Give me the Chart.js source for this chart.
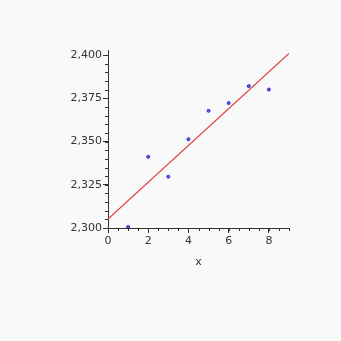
<!DOCTYPE html>
<html>
<head>
<meta charset="utf-8">
<script src="https://cdn.jsdelivr.net/npm/chart.js@4/dist/chart.umd.min.js"></script>
<style>
  html, body { margin: 0; padding: 0; background: #f9f9f9; }
  #wrap { width: 341px; height: 341px; }
</style>
</head>
<body>
<div id="wrap"><canvas id="c" width="341" height="341"></canvas></div>
<script>
// data
const xs = [1, 2, 3, 4, 5, 6, 7, 8];
const ys = [2.3006, 2.3412, 2.3297, 2.3514, 2.3678, 2.3723, 2.3821, 2.3801];
const fitX = [0, 9];
const fitY = [2.3052, 2.4010];
const xTicks = [0, 2, 4, 6, 8];
const yTicks = [2.300, 2.325, 2.350, 2.375, 2.400];

const fmt = v => v.toFixed(3).replace(".", ",");

// small minor ticks, like the original plot
const minorTicks = {
  id: "minorTicks",
  afterDraw(chart) {
    const ctx = chart.ctx;
    const x = chart.scales.x, y = chart.scales.y;
    ctx.save();
    ctx.strokeStyle = "#333";
    ctx.lineWidth = 1;
    ctx.beginPath();
    for (let v = 0; v <= 9.001; v += 0.5) {
      const px = Math.round(x.getPixelForValue(v)) + 0.5;
      ctx.moveTo(px, y.bottom);
      ctx.lineTo(px, y.bottom + 3);
    }
    for (let v = 2.300; v <= 2.4001; v += 0.005) {
      const py = Math.round(y.getPixelForValue(v)) + 0.5;
      ctx.moveTo(x.left - 3, py);
      ctx.lineTo(x.left, py);
    }
    ctx.stroke();
    ctx.restore();
  }
};

new Chart(document.getElementById("c"), {
  type: "scatter",
  data: {
    datasets: [{
      data: xs.map((v, i) => ({ x: v, y: ys[i] })),
      pointStyle: "circle",
      pointRadius: 1.5,
      borderColor: "#2a2ad0",
      backgroundColor: "#6060e0",
      borderWidth: 1
    }, {
      type: "line",
      data: fitX.map((v, i) => ({ x: v, y: fitY[i] })),
      borderColor: "#e03c3c",
      borderWidth: 1.2,
      pointRadius: 0,
      fill: false
    }]
  },
  plugins: [minorTicks],
  options: {
    responsive: false,
    animation: false,
    layout: { padding: { left: 0, top: 50, right: 52, bottom: 68 } },
    plugins: { legend: { display: false }, tooltip: { enabled: false } },
    scales: {
      x: {
        type: "linear",
        min: 0, max: 9,
        afterBuildTicks: s => { s.ticks = xTicks.map(v => ({ value: v })); },
        afterFit: s => { s.height = 45; },
        border: { color: "#333" },
        grid: { drawOnChartArea: false, tickLength: 5, color: "#333" },
        ticks: {
          color: "#333", padding: 2,
          font: { family: "DejaVu Sans", size: 11 },
          callback: v => String(v)
        },
        title: {
          display: true, text: "x", color: "#333",
          font: { family: "DejaVu Sans", size: 11 },
          padding: { top: 6, bottom: 4 }
        }
      },
      y: {
        type: "linear",
        min: 2.300, max: 2.403,
        afterBuildTicks: s => { s.ticks = yTicks.map(v => ({ value: v })); },
        afterFit: s => { s.width = 108; },
        border: { color: "#333" },
        grid: { drawOnChartArea: false, tickLength: 5, color: "#333" },
        ticks: {
          color: "#333", padding: 1,
          font: { family: "DejaVu Sans", size: 11 },
          callback: v => fmt(v)
        }
      }
    }
  }
});
</script>
</body>
</html>
